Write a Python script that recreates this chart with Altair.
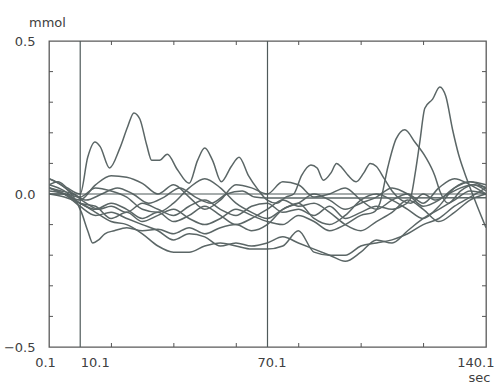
import altair as alt
import pandas as pd

# ---- data (time in sec, value in mmol) ----
T_A = [0.1, 3, 6, 10.1, 12.5, 14.8, 16.5, 19.5, 22.8, 25.3, 27.3, 29.2, 31.4, 33, 35.5,
       38, 41.2, 45, 47.7, 50, 52.5, 55.3, 58.5, 61, 64, 67, 70, 73, 76, 78.5,
       81, 84, 86, 88, 90.5, 92.2, 94, 96, 98.5, 101, 103, 105, 107.5, 110, 113,
       116, 120, 124, 128, 132, 136, 140.1]
V_A = [0.03, 0.04, 0.02, 0.0, 0.12, 0.17, 0.155, 0.085, 0.15, 0.22, 0.265, 0.245, 0.16, 0.11, 0.11,
       0.13, 0.08, 0.035, 0.11, 0.15, 0.11, 0.04, 0.09, 0.12, 0.06, 0.015, -0.02, -0.03, -0.01, 0.0,
       0.06, 0.095, 0.085, 0.045, 0.07, 0.10, 0.085, 0.06, 0.04, 0.07, 0.10, 0.09, 0.05, 0.01, -0.02,
       -0.03, 0.0, -0.02, 0.0, 0.02, 0.03, 0.02]

T_B = [0.1, 4, 8, 12, 16, 20, 25, 30, 35, 40, 45, 50, 55, 60, 65, 70, 75, 80, 85, 90, 95, 100,
       105, 110, 113, 115.7, 117.6, 118.9, 120.5, 123, 125.3, 127.2, 129.4, 131.3, 133.2, 135.4,
       137.3, 140.1]
V_B = [0.05, 0.03, 0.0, -0.03, -0.05, -0.04, -0.06, -0.03, -0.05, -0.07, -0.04, -0.02, -0.05,
       -0.07, -0.04, -0.03, -0.06, -0.05, -0.07, -0.04, -0.08, -0.06, -0.04, -0.05, -0.04, -0.02,
       0.08, 0.17, 0.28, 0.31, 0.35, 0.32, 0.21, 0.13, 0.07, 0.01, -0.04, -0.11]

T_C = [0.1, 5, 10, 15, 20, 25, 30, 35, 40, 45, 50, 55, 60, 65, 70, 75, 80, 85, 90, 95, 100,
       104, 106.1, 108.7, 111.3, 114.1, 117.3, 120.8, 123.7, 125.3, 128, 132, 136, 140.1]
V_C = [0.03, 0.01, -0.03, -0.04, -0.08, -0.06, -0.09, -0.07, -0.05, -0.08, -0.1, -0.08, -0.05,
       -0.07, -0.09, -0.1, -0.07, -0.09, -0.12, -0.1, -0.07, -0.06, -0.03, 0.09, 0.18, 0.21, 0.17,
       0.12, 0.06, 0.01, -0.03, 0.01, 0.03, 0.01]

T_D = [0.1, 4, 8, 10.5, 12.5, 14.1, 16, 18, 21, 25, 30, 35, 40, 45, 50, 55, 60, 65, 70, 75,
       80, 85, 90, 95, 100, 105, 110, 115, 120, 125, 130, 135, 140.1]
V_D = [0.05, 0.03, -0.01, -0.06, -0.12, -0.16, -0.15, -0.13, -0.12, -0.11, -0.12, -0.115, -0.13,
       -0.11, -0.13, -0.11, -0.1, -0.12, -0.1, -0.05, -0.03, 0.0, -0.02, -0.05, -0.03, -0.01, 0.02,
       0.0, -0.04, -0.02, 0.02, 0.04, 0.03]

T_GRID = [0.1, 5, 10, 15, 20, 25, 30, 35, 40, 45, 50, 55, 60, 65, 70, 75, 80, 85, 90, 95, 100,
          105, 110, 115, 120, 125, 130, 135, 140.1]
V_E = [0.02, 0.0, -0.02, 0.03, 0.06, 0.055, 0.035, 0.0, 0.03, -0.01, -0.05, -0.02, 0.03, 0.02,
       0.0, 0.04, 0.03, -0.01, 0.0, 0.02, -0.02, -0.05, -0.02, 0.0, -0.03, 0.02, 0.05, 0.03, 0.0]
V_F = [0.0, 0.0, -0.01, 0.02, 0.01, -0.01, -0.05, -0.06, -0.03, 0.02, 0.05, 0.02, -0.03, -0.06,
       -0.08, -0.05, -0.03, -0.08, -0.1, -0.07, -0.02, 0.0, -0.02, -0.05, -0.08, -0.04, 0.02, 0.04, 0.02]
V_G = [0.01, 0.0, -0.03, -0.05, -0.03, -0.05, -0.08, -0.06, -0.09, -0.07, -0.04, -0.07, -0.1,
       -0.08, -0.05, -0.02, -0.04, -0.03, -0.06, -0.1, -0.12, -0.09, -0.06, -0.02, -0.05, -0.09,
       -0.06, -0.02, 0.0]
V_H = [0.02, 0.0, -0.04, -0.07, -0.06, -0.08, -0.1, -0.12, -0.15, -0.13, -0.14, -0.17, -0.16,
       -0.17, -0.16, -0.14, -0.16, -0.18, -0.2, -0.22, -0.19, -0.15, -0.16, -0.12, -0.08, -0.05,
       -0.02, 0.01, 0.0]
V_I = [0.0, -0.01, -0.03, -0.06, -0.09, -0.1, -0.13, -0.17, -0.19, -0.19, -0.17, -0.16, -0.17,
       -0.18, -0.18, -0.17, -0.12, -0.19, -0.2, -0.2, -0.17, -0.16, -0.15, -0.13, -0.1, -0.08,
       -0.04, -0.01, 0.02]

T_J = [0.1, 4, 8, 12, 17, 22, 27, 32, 37, 42, 47, 52, 57, 62, 66, 70.1, 100, 140.1]
V_J = [0.02, 0.01, 0.0, -0.02, 0.0, 0.02, 0.0, -0.03, -0.01, 0.02, -0.01, -0.03, 0.0, 0.01,
       -0.01, -0.013, -0.013, -0.012]

MARKERS = [10.1, 70.1]          # vertical marker lines (sec)
BASELINE = [0.0]                # horizontal zero line (mmol)
X_LABELS = [0.1, 10.1, 70.1, 140.1]
Y_LABELS = [-0.5, 0.0, 0.5]
X_MINOR = [20.1, 40.1, 60.1, 80.1, 100.1, 120.1]
Y_MINOR = [-0.4, -0.3, -0.2, -0.1, 0.1, 0.2, 0.3, 0.4]

series = {
    "A": (T_A, V_A), "B": (T_B, V_B), "C": (T_C, V_C), "D": (T_D, V_D),
    "E": (T_GRID, V_E), "F": (T_GRID, V_F), "G": (T_GRID, V_G),
    "H": (T_GRID, V_H), "I": (T_GRID, V_I), "J": (T_J, V_J),
}
rows = []
for name, (ts, vs) in series.items():
    for t, v in zip(ts, vs):
        rows.append({"trace": name, "t": t, "v": v})
df = pd.DataFrame(rows)

FONT = "DejaVu Sans"
GREY = "#5b6666"
TXT = "#404040"
W, H = 437, 306

x_scale = alt.Scale(domain=[0.1, 140.1], nice=False, zero=False)
y_scale = alt.Scale(domain=[-0.5, 0.5], nice=False, zero=False)

x_axis = alt.Axis(
    values=X_LABELS, format=".1f", grid=False, ticks=False, domain=False,
    labelFlush=False, labelOverlap=False, labelPadding=9,
    labelFont=FONT, labelFontSize=13, labelColor=TXT,
    labelAlign={"condition": [
        {"test": "datum.value > 5 && datum.value < 20", "value": "left"},
        {"test": "datum.value > 100", "value": "right"}],
        "value": "center"},
    labelOffset={"condition": [
        {"test": "datum.value > 100", "value": 8},
        {"test": "datum.value > 60 && datum.value < 80", "value": 4},
        {"test": "datum.value < 5", "value": -4}],
        "value": 0},
    title="sec", titleFont=FONT, titleFontSize=13, titleFontWeight="normal",
    titleColor=TXT, titleX=430, titleY=24, titleAlign="center", titleBaseline="top")
y_axis = alt.Axis(
    values=Y_LABELS, format=".1f", grid=False, ticks=False, domain=False,
    labelPadding=14, labelFont=FONT, labelFontSize=13, labelColor=TXT,
    title="mmol", titleAngle=0, titleFont=FONT, titleFontSize=13,
    titleFontWeight="normal", titleColor=TXT, titleX=-2, titleY=-19,
    titleAlign="center", titleBaseline="middle")

X = lambda: alt.X("t:Q", scale=x_scale, axis=x_axis)
Y = lambda: alt.Y("v:Q", scale=y_scale, axis=y_axis)

lines = alt.Chart(df).mark_line(
    color=GREY, strokeWidth=1.5, interpolate="monotone", clip=True
).encode(x=X(), y=Y(), detail="trace:N")

markers = alt.Chart(pd.DataFrame({"t": MARKERS})).mark_rule(
    color="#4f5a5a", strokeWidth=1.2
).encode(x=X())

zero = alt.Chart(pd.DataFrame({"v": BASELINE})).mark_rule(
    color="#4f5a5a", strokeWidth=1.2
).encode(y=Y())

ydf = pd.DataFrame({"v": Y_MINOR})
xdf = pd.DataFrame({"t": X_MINOR})
tick_style = dict(color="#555", strokeWidth=1)
left_ticks = alt.Chart(ydf).mark_rule(**tick_style).encode(
    y=Y(), x=alt.value(0), x2=alt.value(4))
right_ticks = alt.Chart(ydf).mark_rule(**tick_style).encode(
    y=Y(), x=alt.value(W - 4), x2=alt.value(W))
top_ticks = alt.Chart(xdf).mark_rule(**tick_style).encode(
    x=X(), y=alt.value(0), y2=alt.value(4))
bottom_ticks = alt.Chart(xdf).mark_rule(**tick_style).encode(
    x=X(), y=alt.value(H - 4), y2=alt.value(H))

chart = alt.layer(
    lines, zero, markers, left_ticks, right_ticks, top_ticks, bottom_ticks
).properties(
    width=W, height=H,
    autosize=alt.AutoSizeParams(type="none"),
    padding={"left": 49, "top": 41, "right": 10, "bottom": 38},
    background="white",
).configure_view(stroke="#5a5a5a", strokeWidth=1.3)

chart.save("out.html", embed_options={"renderer": "svg", "actions": False})
